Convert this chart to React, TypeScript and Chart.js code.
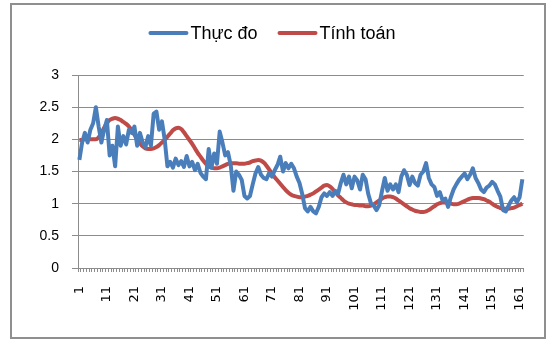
import React, { useEffect, useRef } from "react";
import { Chart, registerables } from "chart.js";

Chart.register(...registerables);

// Observation index 1..162
const categories: string[] = Array.from({ length: 162 }, (_, i) => String(i + 1));

const measured: number[] = [
  1.68, 1.95, 2.1, 1.95, 2.15, 2.25, 2.5, 2.2, 1.95, 2.15,
  2.3, 1.75, 1.9, 1.58, 2.2, 1.9, 2.05, 1.92, 2.15, 2.1,
  2.2, 1.9, 2.1, 1.95, 1.88, 2.05, 1.9, 2.4, 2.43, 2.15,
  2.28, 2.0, 1.58, 1.65, 1.56, 1.7, 1.6, 1.66, 1.57, 1.74,
  1.58, 1.65, 1.52, 1.62, 1.48, 1.42, 1.38, 1.85, 1.56, 1.78,
  1.62, 2.12, 1.95, 1.75, 1.8, 1.6, 1.2, 1.5, 1.45, 1.37,
  1.12, 1.08, 1.12, 1.3, 1.47, 1.57, 1.45, 1.4, 1.38, 1.48,
  1.42, 1.52, 1.6, 1.73, 1.5, 1.63, 1.55, 1.62, 1.55, 1.42,
  1.32, 1.15, 0.93, 0.88, 0.95, 0.88, 0.85, 0.95, 1.1, 1.16,
  1.12, 1.18, 1.12, 1.2, 1.15, 1.32, 1.45, 1.3, 1.42, 1.24,
  1.42, 1.36, 1.22, 1.45, 1.38, 1.15, 1.0, 0.97, 0.9, 0.98,
  1.2, 1.4, 1.2, 1.3, 1.22, 1.3, 1.18, 1.42, 1.52, 1.45,
  1.29, 1.42, 1.32, 1.28, 1.45, 1.5, 1.63, 1.4, 1.3, 1.26,
  1.12, 1.18, 1.05, 1.08, 0.95, 1.1, 1.22, 1.3, 1.37, 1.42,
  1.47, 1.38, 1.45, 1.55, 1.4, 1.32, 1.22, 1.18, 1.25, 1.28,
  1.34, 1.3, 1.2, 1.11, 0.9, 0.88, 0.97, 1.05, 1.1, 1.02,
  1.1, 1.38,
];

const computed: number[] = [
  1.99, 1.99, 2.0, 2.0, 2.0, 2.0, 2.0, 2.03, 2.1, 2.18,
  2.25, 2.3, 2.32, 2.33, 2.32, 2.3, 2.27, 2.24, 2.2, 2.14,
  2.07, 2.0, 1.94, 1.89, 1.86, 1.85, 1.85, 1.86, 1.88, 1.91,
  1.95, 1.99, 2.04, 2.09, 2.14, 2.17, 2.18, 2.16, 2.11, 2.05,
  1.99, 1.93, 1.86, 1.79, 1.73, 1.67, 1.62, 1.58, 1.56, 1.55,
  1.55, 1.56, 1.58, 1.6, 1.62, 1.63, 1.63, 1.63, 1.62, 1.62,
  1.62, 1.63, 1.64, 1.66, 1.67, 1.68, 1.67, 1.64, 1.59, 1.53,
  1.47, 1.41, 1.36, 1.31, 1.26, 1.21, 1.17, 1.14, 1.12, 1.11,
  1.1, 1.1, 1.11, 1.12, 1.14, 1.16, 1.19, 1.22, 1.25, 1.28,
  1.29, 1.27, 1.23, 1.18, 1.13, 1.09, 1.05, 1.02, 1.0, 0.99,
  0.98, 0.98, 0.97, 0.97, 0.96, 0.96, 0.97, 0.99, 1.02, 1.05,
  1.08, 1.1, 1.11, 1.11, 1.1, 1.08, 1.05, 1.02, 0.99, 0.96,
  0.93, 0.91, 0.89, 0.88, 0.87, 0.87, 0.88, 0.9, 0.93, 0.96,
  0.99, 1.01, 1.02, 1.02, 1.01, 1.0, 0.99, 0.99, 1.0, 1.02,
  1.04, 1.06, 1.08, 1.09, 1.09, 1.09, 1.08, 1.07, 1.05, 1.03,
  1.0, 0.97, 0.95, 0.93, 0.92, 0.92, 0.92, 0.93, 0.94, 0.96,
  0.98, 1.0,
];

const seriesNames: string[] = ["Thực đo", "Tính toán"];
const seriesColors: string[] = ["#4a7ebb", "#be4b48"];
const yTicks: number[] = [0, 0.5, 1, 1.5, 2, 2.5, 3];

const GRID = "#8c8c8c";

// Legend drawn as a centred row of line samples followed by their names
const lineLegend = {
  id: "lineLegend",
  afterDraw(chart: Chart) {
    const ctx = chart.ctx;
    ctx.save();
    ctx.font = '18px "Liberation Sans", Arial, sans-serif';
    ctx.textBaseline = "middle";
    ctx.textAlign = "left";
    const y = 33;
    const sample = 40;
    const gapText = 2;
    const gapItem = 20;
    const widths = seriesNames.map((n) => sample + gapText + ctx.measureText(n).width);
    const total = widths.reduce((a, b) => a + b, 0) + gapItem * (seriesNames.length - 1);
    let x = 272 - total / 2;
    seriesNames.forEach((name, i) => {
      ctx.strokeStyle = seriesColors[i];
      ctx.lineWidth = 4;
      ctx.lineCap = "round";
      ctx.beginPath();
      ctx.moveTo(x + 2, y);
      ctx.lineTo(x + sample - 2, y);
      ctx.stroke();
      ctx.fillStyle = "#000";
      ctx.fillText(name, x + sample + gapText, y + 1);
      x += widths[i] + gapItem;
    });
    ctx.restore();
  },
};

export default function App() {
  const canvasRef = useRef<HTMLCanvasElement | null>(null);

  useEffect(() => {
    const canvas = canvasRef.current;
    if (!canvas) return;
    const chart = new Chart(canvas, {
      type: "line",
      data: {
        labels: categories,
        datasets: [
          {
            label: seriesNames[0],
            data: measured,
            borderColor: seriesColors[0],
            backgroundColor: seriesColors[0],
            borderWidth: 4,
            pointRadius: 0,
            tension: 0,
            borderJoinStyle: "round",
          },
          {
            label: seriesNames[1],
            data: computed,
            borderColor: seriesColors[1],
            backgroundColor: seriesColors[1],
            borderWidth: 4,
            pointRadius: 0,
            cubicInterpolationMode: "monotone",
          },
        ],
      },
      options: {
        responsive: false,
        animation: false,
        devicePixelRatio: 1,
        layout: { padding: { left: 20, right: 15, top: 75, bottom: 22 } },
        plugins: {
          legend: { display: false },
          tooltip: { enabled: false },
        },
        scales: {
          x: {
            type: "category",
            offset: true,
            afterFit(scale: any) {
              scale.height = 50;
            },
            grid: {
              display: true,
              drawOnChartArea: false,
              drawTicks: true,
              tickLength: 4,
              offset: true,
              color: GRID,
            },
            border: { display: true, color: GRID, width: 1 },
            ticks: {
              autoSkip: false,
              maxRotation: 90,
              minRotation: 90,
              padding: 14,
              color: "#000",
              font: { family: '"DejaVu Sans", sans-serif', size: 13 },
              callback: (_v: any, i: number) => (i % 10 === 0 ? categories[i] : ""),
            },
          },
          y: {
            min: 0,
            max: 3,
            afterFit(scale: any) {
              scale.width = 58;
            },
            afterBuildTicks(scale: any) {
              scale.ticks = yTicks.map((v) => ({ value: v }));
            },
            grid: {
              color: GRID,
              lineWidth: 1,
              drawTicks: true,
              tickLength: 6,
            },
            border: { display: true, color: GRID, width: 1 },
            ticks: {
              padding: 13,
              color: "#000",
              font: { family: '"Liberation Sans", Arial, sans-serif', size: 14 },
              callback: (v: any) => String(v),
            },
          },
        },
      },
      plugins: [lineLegend],
    });
    return () => chart.destroy();
  }, []);

  return (
    <div style={{ position: "absolute", left: 0, top: 0, width: 552, height: 340, background: "#fff" }}>
      <div
        style={{
          position: "absolute",
          left: 10,
          top: 3,
          width: 536,
          height: 336,
          boxSizing: "border-box",
          border: "2px solid #8f8f8f",
        }}
      />
      <canvas
        ref={canvasRef}
        width={552}
        height={340}
        style={{ position: "absolute", left: 0, top: 0, width: 552, height: 340 }}
      />
    </div>
  );
}
